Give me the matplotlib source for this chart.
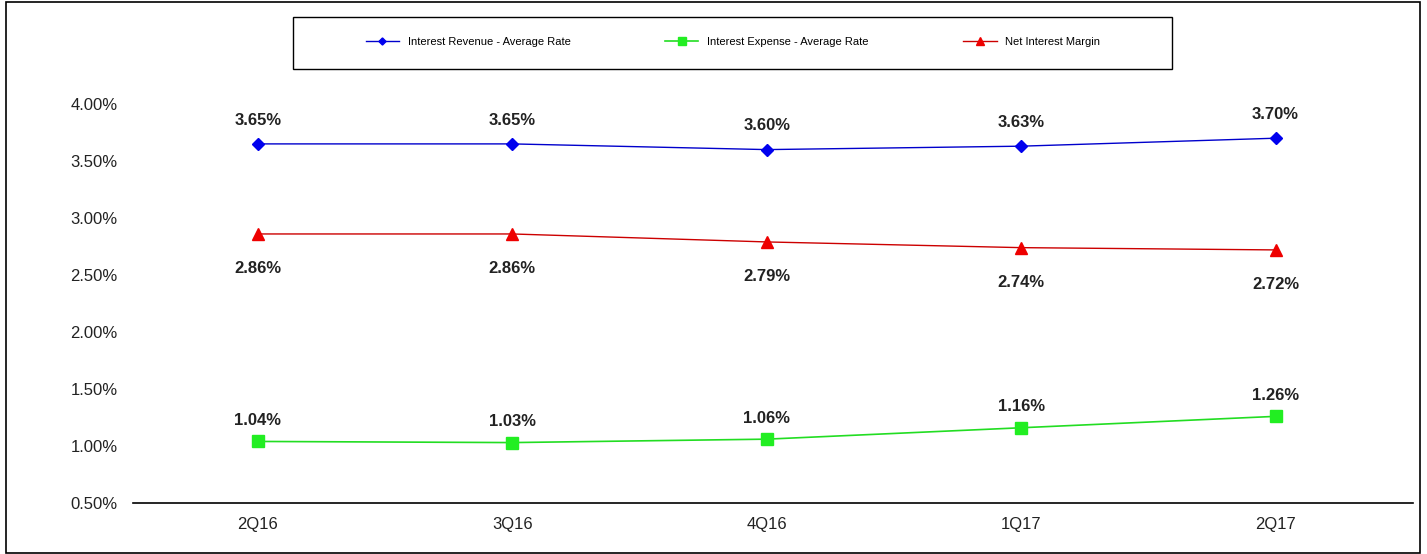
import matplotlib.pyplot as plt
from matplotlib.patches import Rectangle
import numpy as np

plt.rcParams['font.family'] = ['Liberation Sans', 'DejaVu Sans']

quarters = ['2Q16', '3Q16', '4Q16', '1Q17', '2Q17']
revenue_rate = [3.65, 3.65, 3.60, 3.63, 3.70]
expense_rate = [1.04, 1.03, 1.06, 1.16, 1.26]
net_margin = [2.86, 2.86, 2.79, 2.74, 2.72]

fig = plt.figure(figsize=(14.27, 5.54), dpi=100)
ax = fig.add_axes([133/1427, 51/554, 1280/1427, 399/554])

x = np.arange(len(quarters))
l1, = ax.plot(x, revenue_rate, color='#0000cc', lw=1.0, marker='D', ms=6,
              markerfacecolor='#0000ee', markeredgecolor='#0000ee')
l2, = ax.plot(x, expense_rate, color='#22dd22', lw=1.2, marker='s', ms=9,
              markerfacecolor='#22ee22', markeredgecolor='#22ee22')
l3, = ax.plot(x, net_margin, color='#cc0000', lw=1.0, marker='^', ms=9,
              markerfacecolor='#ee0000', markeredgecolor='#ee0000')

# data labels: revenue & expense above, margin below
lbl = dict(textcoords='offset points', ha='center', va='center',
           fontsize=12, fontweight='bold', color='#222222')
for xi, v in zip(x, revenue_rate):
    ax.annotate('%.2f%%' % v, (xi, v), xytext=(0, 17), **lbl)
for xi, v in zip(x, net_margin):
    ax.annotate('%.2f%%' % v, (xi, v), xytext=(0, -25), **lbl)
for xi, v in zip(x, expense_rate):
    ax.annotate('%.2f%%' % v, (xi, v), xytext=(0, 15), **lbl)

ax.set_xlim(-0.49, 4.54)
ax.set_ylim(0.5, 4.0)
ax.set_yticks([0.5, 1.0, 1.5, 2.0, 2.5, 3.0, 3.5, 4.0])
ax.set_yticklabels(['%.2f%%' % t for t in ax.get_yticks()])
ax.set_xticks(x)
ax.set_xticklabels(quarters)
ax.tick_params(length=0, labelsize=12, colors='#222222', pad=11)
ax.tick_params(axis='x', pad=10)
for s in ['top', 'right', 'left']:
    ax.spines[s].set_visible(False)
ax.spines['bottom'].set_linewidth(1.2)

leg = fig.legend([l1, l2, l3],
                 ['Interest Revenue - Average Rate', 'Interest Expense - Average Rate',
                  'Net Interest Margin'],
                 loc='center', bbox_to_anchor=(733/1427, 1 - 42/554), ncol=3,
                 fontsize=8, frameon=False, handlelength=3, markerscale=0.6,
                 columnspacing=8.5)

# legend box and outer border
fig.patches.append(Rectangle((293/1427, 1 - 69/554), 879/1427, 52/554,
                             transform=fig.transFigure, fill=False,
                             edgecolor='black', lw=1.0))
fig.patches.append(Rectangle((6/1427, 0.002), 1414/1427, 0.995, transform=fig.transFigure,
                             fill=False, edgecolor='black', lw=1.2))

fig.savefig('out.png', dpi=100)
